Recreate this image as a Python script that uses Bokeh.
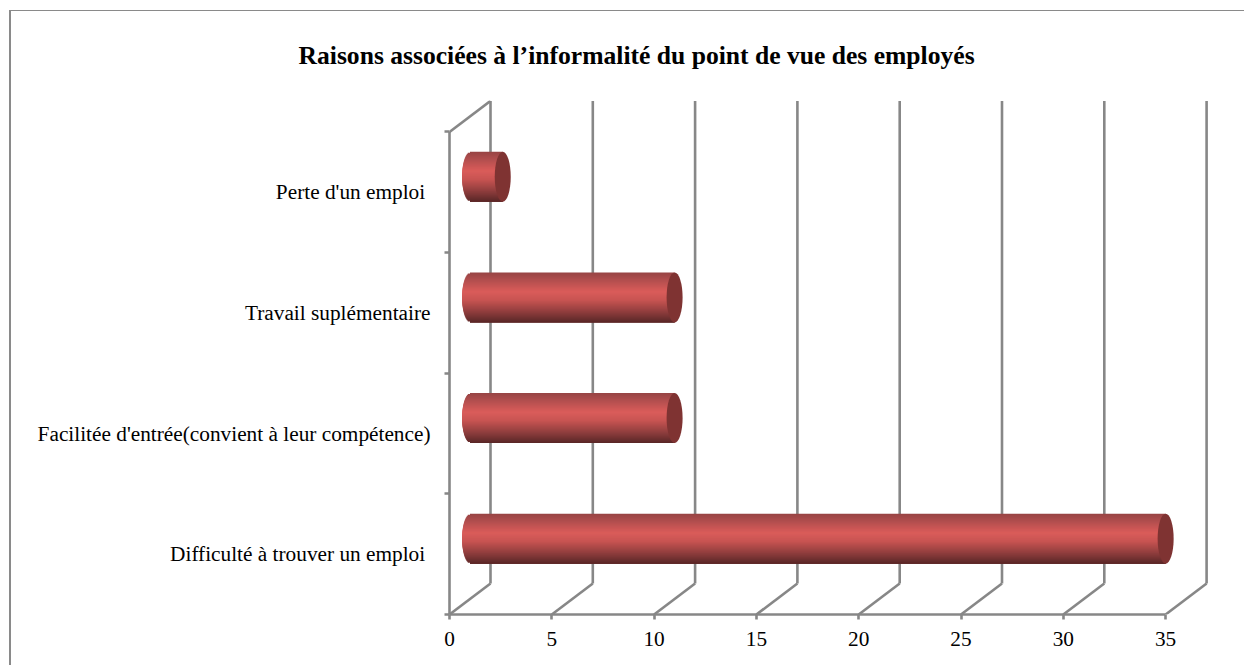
from bokeh.plotting import figure
from bokeh.embed import file_html
from bokeh.resources import INLINE
from bokeh.models import FixedTicker, Title

title_text = "Raisons associées à l’informalité du point de vue des employés"
categories = ["Difficulté à trouver un emploi ", "Facilitée d'entrée(convient à leur compétence)",
              "Travail suplémentaire", "Perte d'un emploi "]
values = [34, 10, 10, 1.6]
x_ticks = [0, 5, 10, 15, 20, 25, 30, 35]

OX, OY = 11, 11      # top-left corner of the figure inside the page
W, H = 1246 - OX, 666 - OY
LEFT, BOTTOM, TOP = 449 - OX, 52, 100 - OY
PX_X = 20.46
FW = W - LEFT
FH = H - BOTTOM - TOP
X_END = FW / PX_X
PX_Y = 120.65
Y_END = FH / PX_Y
DX = 41 / PX_X       # depth of the 3D box, x
DY = 31 / PX_Y       # depth of the 3D box, y
BAR_H = 50 / PX_Y
CAP_W = 16 / PX_X
GRID = "#878787"
LW = 2.6
FONT = "Liberation Serif"
FS = "21.3px"

p = figure(width=W, height=H, output_backend="svg", toolbar_location=None,
           x_range=(0, X_END), y_range=(0, Y_END), tools="",
           min_border_left=LEFT, min_border_right=0, min_border_bottom=BOTTOM, min_border_top=TOP)
p.outline_line_color = None
p.grid.visible = False
p.background_fill_color = "white"
p.margin = (OY - 1, 0, 0, OX - 2)
p.styles = {"border-left": "2px solid #8a8a8a", "border-top": "1px solid #8a8a8a"}

p.title = Title(text=title_text, align="left", offset=-151, standoff=58, vertical_align="top",
                text_font=FONT, text_font_size="25.6px", text_font_style="bold", text_color="black")

# axes
ax = p.xaxis[0]
ax.ticker = FixedTicker(ticks=x_ticks)
ax.bounds = (0, 35)
ax.axis_line_color = GRID
ax.axis_line_width = LW
ax.major_tick_line_color = GRID
ax.major_tick_line_width = LW
ax.major_tick_in = 0
ax.major_tick_out = 5
ax.minor_tick_line_color = None
ax.major_label_text_font = FONT
ax.major_label_text_font_size = FS
ax.major_label_text_color = "black"
ax.major_label_standoff = 12

ay = p.yaxis[0]
n = len(categories)
ay.ticker = FixedTicker(ticks=[i + 0.5 for i in range(n)], minor_ticks=list(range(n + 1)))
ay.major_label_overrides = {i + 0.5: c for i, c in enumerate(categories)}
ay.bounds = (0, n)
ay.axis_line_color = GRID
ay.axis_line_width = LW
ay.major_tick_line_color = None
ay.major_tick_in = 0
ay.major_tick_out = 0
ay.minor_tick_line_color = GRID
ay.minor_tick_line_width = LW
ay.minor_tick_in = 0
ay.minor_tick_out = 5
ay.major_label_text_font = FONT
ay.major_label_text_font_size = FS
ay.major_label_text_color = "black"
ay.major_label_standoff = 14

# back wall + floor
p.segment(x0=[x + DX for x in x_ticks], y0=[DY] * len(x_ticks), x1=[x + DX for x in x_ticks],
          y1=[n + DY] * len(x_ticks), line_color=GRID, line_width=LW)
p.segment(x0=x_ticks + [0], y0=[0] * len(x_ticks) + [n], x1=[x + DX for x in x_ticks] + [DX],
          y1=[DY] * len(x_ticks) + [n + DY], line_color=GRID, line_width=LW)

# gradient of the cylinders: (position from top, colour)
stops = [(0.0, (150, 68, 68)), (0.12, (172, 76, 76)), (0.38, (218, 92, 90)),
         (0.55, (200, 84, 82)), (0.8, (140, 60, 60)), (1.0, (88, 38, 38))]


def shade(f):
    for (a, ca), (b, cb) in zip(stops, stops[1:]):
        if f <= b:
            k = (f - a) / (b - a)
            return "#%02x%02x%02x" % tuple(round(u + (v - u) * k) for u, v in zip(ca, cb))
    return "#582626"


def edge(f):
    return DX / 2 - CAP_W / 2 * max(0.0, 1 - (2 * f - 1) ** 2) ** 0.5


STRIPS = 50
for s in range(STRIPS):
    f0 = s / STRIPS
    f1 = min(1.0, (s + 3) / STRIPS)   # overlaps the next strips, which paint over it
    h = (f1 - f0) * BAR_H
    p.hbar(y=[i + 0.5 + DY / 2 + BAR_H / 2 - (f0 + f1) / 2 * BAR_H for i in range(n)],
           left=[max(edge(f0), edge(f1))] * n, right=[v + DX / 2 for v in values],
           height=h, fill_color=shade((s + 0.5) / STRIPS), fill_alpha=1.0, line_color=None)
p.ellipse(x=[v + DX / 2 for v in values], y=[i + 0.5 + DY / 2 for i in range(n)],
          width=CAP_W, height=BAR_H, fill_color="#7f3332", fill_alpha=1.0, line_color=None)

open("out.html", "w").write(file_html(p, INLINE))
